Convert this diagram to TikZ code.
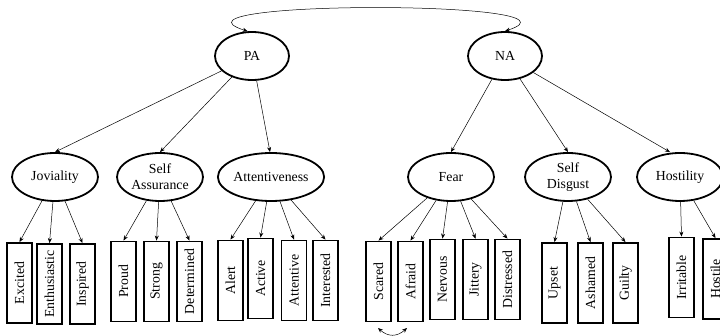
\documentclass[tikz,border=0pt]{standalone}
\usepackage{fontspec}
\setmainfont{Liberation Serif}
\usepackage{graphicx}
\usetikzlibrary{shapes.geometric,arrows.meta}
\newcommand\fsz{\fontsize{13.8}{16}\selectfont}
\tikzset{
 lat/.style={ellipse, draw, line width=1.8pt, minimum width=86pt, minimum height=48pt, inner sep=0pt, align=center, font=\fsz},
 toplat/.style={lat, minimum width=74pt},
 ind/.style={rectangle, draw, line width=1.8pt, minimum width=25pt, minimum height=80pt, inner sep=0pt, font=\fsz},
 arr/.style={-{Stealth[length=5pt,width=4pt]}, line width=0.5pt},
 darr/.style={{Stealth[length=5pt,width=4pt]}-{Stealth[length=5pt,width=4pt]}, line width=0.5pt},
}
\begin{document}
\begin{tikzpicture}[x=1pt,y=-1pt]
\useasboundingbox (0,0) rectangle (720,336);
\clip (0,0) rectangle (720,336);
% top level
\node[toplat] (pa) at (252,56) {PA};
\node[toplat] (na) at (505,56) {NA};
% second level
\node[lat] (jov) at (55,177) {Joviality};
\node[lat] (sa) at (160,177) {Self\\Assurance};
\node[lat] (att) at (271,177) {Attentiveness};
\node[lat] (fear) at (451,177) {Fear};
\node[lat] (sd) at (568,177) {Self\\Disgust};
\node[lat] (hos) at (680,177) {Hostility};
% indicators
\node[ind] (exc) at (19.5,283) {\rotatebox{90}{Excited}};
\node[ind] (ent) at (49.5,284) {\rotatebox{90}{Enthusiastic}};
\node[ind] (ins) at (82.5,284) {\rotatebox{90}{Inspired}};
\node[ind] (pro) at (123.5,281.5) {\rotatebox{90}{Proud}};
\node[ind] (str) at (156.5,281.5) {\rotatebox{90}{Strong}};
\node[ind] (det) at (189.5,281.5) {\rotatebox{90}{Determined}};
\node[ind] (ale) at (230.5,280.5) {\rotatebox{90}{Alert}};
\node[ind] (act) at (260.5,278.5) {\rotatebox{90}{Active}};
\node[ind] (atn) at (294,280.5) {\rotatebox{90}{Attentive}};
\node[ind] (int) at (325.5,280.5) {\rotatebox{90}{Interested}};
\node[ind] (sca) at (378.5,281.5) {\rotatebox{90}{Scared}};
\node[ind] (afr) at (410.5,281.5) {\rotatebox{90}{Afraid}};
\node[ind] (ner) at (442.5,279.5) {\rotatebox{90}{Nervous}};
\node[ind] (jit) at (475.5,279.5) {\rotatebox{90}{Jittery}};
\node[ind] (dis) at (507.5,279.5) {\rotatebox{90}{Distressed}};
\node[ind] (ups) at (554.5,283) {\rotatebox{90}{Upset}};
\node[ind] (ash) at (590.5,283) {\rotatebox{90}{Ashamed}};
\node[ind] (gui) at (625.5,283) {\rotatebox{90}{Guilty}};
\node[ind] (irr) at (681.5,277.5) {\rotatebox{90}{Irritable}};
\node[ind] (hst) at (715.5,279) {\rotatebox{90}{Hostile}};
% correlation between PA and NA
\draw[darr] (pa.100) .. controls (150,0) and (600,0) .. (na.north);
% top-level loadings
\draw[arr] (pa) -- (jov.north);
\draw[arr] (pa) -- (sa.north);
\draw[arr] (pa) -- ([xshift=-1pt]att.north);
\draw[arr] (na) -- (fear.north);
\draw[arr] (na) -- (sd.north);
\draw[arr] (na) -- ([xshift=-10pt]hos.north);
% indicator loadings
\foreach \p/\c in {jov/exc, jov/ent, jov/ins, sa/pro, sa/str, sa/det,
  att/ale, att/act, att/atn, att/int, fear/sca, fear/afr, fear/ner,
  fear/jit, fear/dis, sd/ups, sd/ash, sd/gui, hos/irr, hos/hst}
  \draw[arr] (\p) -- (\c.north);
% correlated residuals
\coordinate (rl) at (378,328);
\coordinate (rr) at (407,328);
\draw[darr] (rl) .. controls (388,337) and (397,337) .. (rr);
\end{tikzpicture}
\end{document}
